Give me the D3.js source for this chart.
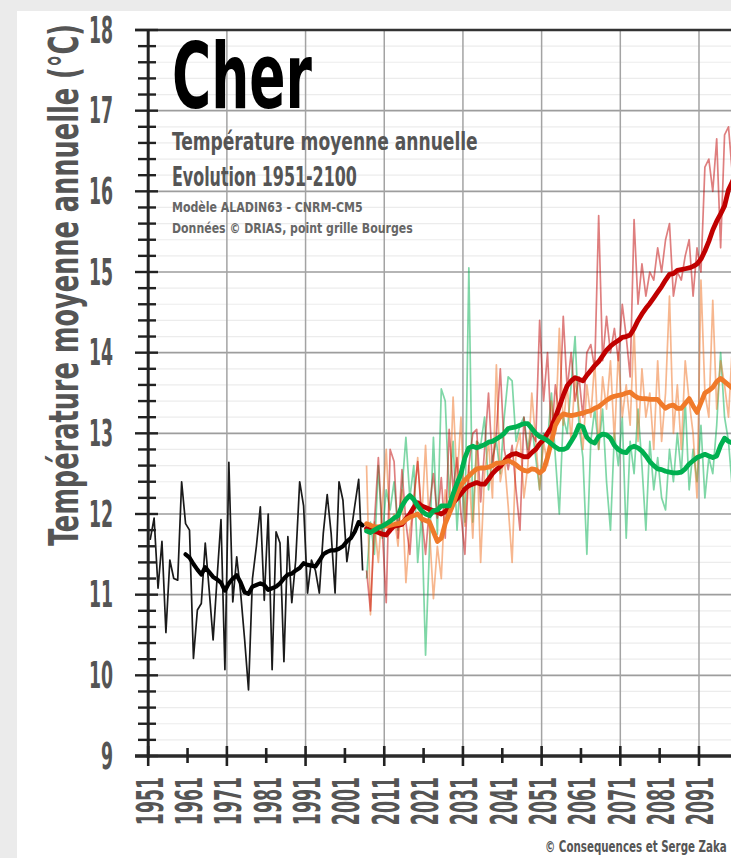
<!DOCTYPE html>
<html>
<head>
<meta charset="utf-8">
<script src="https://cdn.jsdelivr.net/npm/d3@7"></script>
<style>
  html, body { margin: 0; padding: 0; background: #ebebeb; overflow: hidden; }
  svg { display: block; }
</style>
</head>
<body>
<svg id="chart" width="731" height="858"></svg>
<script>
// ---- Data ---------------------------------------------------------------
const obsStart = 1951;     // first observed year
const modelStart = 2006;   // first projected year
const smoothObsStart = 1960;

// Observed annual mean temperature, Bourges grid point (°C), 1951-2005
const observed = [
  11.68, 11.95, 11.08, 11.66, 10.53, 11.43, 11.20, 11.18, 12.40, 11.88,
  11.80, 10.21, 10.81, 10.89, 11.64, 11.06, 10.44, 11.20, 11.93, 10.07,
  12.64, 10.91, 11.47, 11.02, 10.45, 9.82, 11.20, 11.60, 12.09, 10.93,
  12.00, 10.07, 11.78, 11.64, 10.17, 11.72, 10.90, 11.43, 12.40, 12.10,
  11.02, 11.43, 11.30, 11.02, 11.76, 12.24, 11.76, 11.02, 12.40, 12.17,
  11.41, 11.75, 12.10, 12.43, 11.30
];
// Observed 10-year running mean, 1960-2005
const observedSmooth = [
  11.50, 11.46, 11.38, 11.31, 11.25, 11.34, 11.28, 11.22, 11.19, 11.15,
  11.05, 11.14, 11.20, 11.24, 11.15, 11.03, 11.01, 11.10, 11.12, 11.14,
  11.12, 11.06, 11.08, 11.10, 11.14, 11.20, 11.25, 11.26, 11.30, 11.33,
  11.39, 11.37, 11.36, 11.35, 11.42, 11.50, 11.53, 11.55, 11.55, 11.57,
  11.60, 11.66, 11.70, 11.78, 11.90, 11.86
];

// Projections 2006-2100, annual values
const rcp85 = [
  11.30, 10.80, 11.90, 12.70, 11.80, 10.90, 12.80, 12.65, 11.70, 12.55,
  11.90, 11.50, 12.20, 12.65, 12.00, 11.50, 12.10, 12.50, 11.95, 12.45,
  11.70, 13.05, 12.30, 12.70, 12.00, 11.50, 12.60, 13.00, 13.05, 12.15,
  12.80, 13.50, 12.60, 13.00, 13.80, 12.80, 12.55, 12.85, 12.30, 11.80,
  13.20, 12.70, 13.00, 12.90, 14.40, 13.40, 14.00, 12.95, 13.60, 13.20,
  14.45, 13.55, 14.00, 13.40, 13.70, 13.20, 14.00, 14.10, 13.80, 15.70,
  13.90, 14.45, 14.00, 14.30, 13.90, 14.60, 14.20, 13.70, 15.65, 14.60,
  15.10, 14.70, 15.00, 14.90, 15.30, 15.00, 15.40, 15.60, 14.70, 15.00,
  14.90, 15.20, 15.40, 14.70, 15.30, 15.00, 16.30, 16.40, 16.00, 16.65,
  15.30, 16.70, 16.80, 16.20, 16.60
];
const rcp45 = [
  12.60, 10.75, 11.90, 11.40, 12.10, 12.80, 11.80, 12.00, 11.60, 12.30,
  11.15, 11.80, 12.10, 12.70, 11.90, 12.85, 11.80, 10.95, 11.60, 11.20,
  12.30, 12.00, 13.45, 12.40, 13.20, 11.85, 12.60, 11.70, 12.90, 11.40,
  12.50, 12.90, 12.20, 13.85, 12.40, 12.70, 12.10, 11.40, 12.80, 13.00,
  12.20, 12.60, 13.50, 12.90, 12.30, 12.90, 12.60, 13.40, 13.00, 14.30,
  13.10, 13.60, 12.90, 13.70, 13.30, 12.80, 13.60, 13.20, 13.90, 12.80,
  13.70, 13.30, 13.90, 12.90, 14.00, 13.20, 13.60, 13.10, 14.30, 12.90,
  13.80, 13.20, 13.50, 12.80, 13.90, 12.90, 13.50, 14.70, 13.00, 13.60,
  12.80, 13.90, 13.40, 13.00, 12.20, 14.90, 13.50, 13.20, 14.65, 13.30,
  13.90, 13.60, 13.20, 14.10, 13.50
];
const rcp26 = [
  11.20, 11.90, 11.50, 12.60, 11.70, 12.30, 12.05, 12.40, 11.80, 12.30,
  12.95, 12.20, 12.60, 11.40, 12.00, 10.25, 11.60, 12.95, 11.75, 13.55,
  13.40, 12.20, 12.90, 11.80, 12.60, 11.90, 15.05, 11.90, 12.90, 12.85,
  13.20, 12.30, 12.70, 12.90, 12.50, 13.20, 13.70, 13.65, 12.90, 13.10,
  13.20, 12.80, 13.10, 12.70, 12.30, 13.00, 12.90, 13.50, 12.70, 12.00,
  13.20, 13.00, 13.60, 14.20, 13.10, 12.70, 11.50, 12.90, 13.30, 12.80,
  13.30, 12.40, 11.80, 13.00, 12.60, 13.20, 11.70, 12.90, 12.50, 13.30,
  12.60, 11.80, 12.90, 12.30, 12.70, 12.20, 12.05, 12.80, 12.40, 13.00,
  12.50, 13.40, 12.30, 12.80, 12.40, 13.10, 12.20, 12.70, 12.50, 13.10,
  14.00, 13.20, 12.90, 12.30, 13.00
];

// Projections 2006-2100, 10-year running mean
const rcp85Smooth = [
  11.82, 11.80, 11.79, 11.77, 11.75, 11.74, 11.80, 11.85, 11.86, 11.87,
  11.94, 12.00, 12.08, 12.14, 12.10, 12.08, 12.06, 12.04, 12.02, 12.00,
  12.03, 12.08, 12.14, 12.19, 12.25, 12.31, 12.35, 12.37, 12.39, 12.37,
  12.37, 12.43, 12.50, 12.55, 12.59, 12.65, 12.71, 12.74, 12.75, 12.73,
  12.71, 12.71, 12.76, 12.80, 12.87, 12.92, 13.00, 13.08, 13.20, 13.33,
  13.47, 13.59, 13.65, 13.69, 13.67, 13.65, 13.72, 13.78, 13.84, 13.89,
  13.96, 14.03, 14.08, 14.12, 14.15, 14.19, 14.20, 14.22, 14.30, 14.40,
  14.48, 14.55, 14.61, 14.68, 14.75, 14.82, 14.90, 14.97, 14.98, 15.02,
  15.03, 15.04, 15.05, 15.07, 15.10, 15.16, 15.26, 15.38, 15.52, 15.63,
  15.72, 15.82, 16.02, 16.12, 16.25
];
const rcp45Smooth = [
  11.88, 11.86, 11.84, 11.84, 11.85, 11.85, 11.86, 11.87, 11.88, 11.89,
  11.93, 11.96, 11.98, 12.00, 11.94, 11.92, 11.90, 11.78, 11.66, 11.70,
  11.88, 12.00, 12.12, 12.26, 12.36, 12.42, 12.47, 12.52, 12.56, 12.57,
  12.57, 12.58, 12.60, 12.63, 12.63, 12.64, 12.66, 12.64, 12.61, 12.57,
  12.54, 12.53, 12.56, 12.55, 12.51, 12.55, 12.70, 12.90, 13.10, 13.19,
  13.24, 13.23, 13.22, 13.23, 13.24, 13.25, 13.27, 13.28, 13.31, 13.33,
  13.37, 13.41, 13.44, 13.46, 13.47, 13.48, 13.50, 13.51, 13.47, 13.44,
  13.43, 13.43, 13.42, 13.42, 13.42, 13.36, 13.31, 13.34, 13.35, 13.31,
  13.31, 13.37, 13.43, 13.34, 13.26, 13.38, 13.50, 13.53, 13.57, 13.64,
  13.68, 13.64, 13.60, 13.56, 13.60
];
const rcp26Smooth = [
  11.79, 11.77, 11.80, 11.83, 11.85, 11.88, 11.91, 11.95, 11.98, 12.10,
  12.18, 12.23, 12.18, 12.10, 12.04, 12.00, 11.98, 12.04, 12.05, 12.10,
  12.10, 12.10, 12.25, 12.38, 12.50, 12.70, 12.82, 12.84, 12.82, 12.84,
  12.86, 12.89, 12.90, 12.93, 12.96, 13.00, 13.06, 13.07, 13.08, 13.10,
  13.12, 13.12, 13.06, 13.00, 12.96, 12.94, 12.91, 12.87, 12.83, 12.80,
  12.80, 12.82, 12.90, 12.98, 13.10, 13.08, 12.95, 12.90, 12.88, 12.96,
  12.99, 12.98, 12.94, 12.85, 12.80, 12.77, 12.76, 12.82, 12.84, 12.82,
  12.78, 12.72, 12.65, 12.60, 12.56, 12.55, 12.53, 12.52, 12.51, 12.51,
  12.52, 12.56, 12.62, 12.66, 12.70, 12.72, 12.74, 12.72, 12.70, 12.72,
  12.85, 12.94, 12.90, 12.88, 12.90
];

// Axis labels
const xTickLabels = ["1951","1961","1971","1981","1991","2001","2011","2021",
                     "2031","2041","2051","2061","2071","2081","2091"];
const yTickLabels = [9, 10, 11, 12, 13, 14, 15, 16, 17, 18];

// ---- Layout ---------------------------------------------------------------
const W = 731, H = 858;
const FONT = "'DejaVu Sans Condensed','DejaVu Sans',sans-serif";
const x = d3.scaleLinear().domain([1951, 2100]).range([148.2, 734.4]);
const y = d3.scaleLinear().domain([9, 18]).range([756, 30]);

const svg = d3.select("#chart");

// Places a text at (tx, ty), optionally rotated, and squeezes it along its
// baseline so that it spans exactly `len` pixels.
function fitText(parent, str, opts) {
  const t = parent.append("text")
    .attr("font-family", FONT).attr("font-weight", "bold")
    .attr("font-size", opts.size).attr("fill", opts.fill)
    .attr("text-anchor", opts.anchor || "start")
    .text(str);
  const natural = t.node().getComputedTextLength();
  const k = opts.len / natural;
  const rot = opts.rotate ? ` rotate(${opts.rotate})` : "";
  t.attr("transform", `translate(${opts.x},${opts.y})${rot} scale(${k},1)`);
  return t;
}

// white card
svg.append("rect").attr("x", 17).attr("y", 11)
  .attr("width", W).attr("height", H).attr("fill", "#ffffff");

const plotLeft = x(1951), plotRight = W + 10;
const isWhole = d => Math.abs(d - Math.round(d)) < 1e-6;

// horizontal gridlines: light every 0.2 °C, darker every degree
const minorVals = y.ticks(45);
svg.append("g").selectAll("line").data(minorVals).join("line")
  .attr("x1", plotLeft).attr("x2", plotRight)
  .attr("y1", d => y(d)).attr("y2", d => y(d))
  .attr("stroke", d => isWhole(d) ? "#9d9d9d" : "#ececec")
  .attr("stroke-width", d => isWhole(d) ? 1.6 : 1.2);

// vertical gridlines every 20 years
const gridYears = xTickLabels.map(Number).filter((d, i) => i % 2 === 0 && d > 1951);
svg.append("g").selectAll("line").data(gridYears).join("line")
  .attr("x1", d => x(d)).attr("x2", d => x(d))
  .attr("y1", y(18)).attr("y2", y(9))
  .attr("stroke", "#a3a3a3").attr("stroke-width", 1.5);

// top frame line
svg.append("line").attr("x1", 135).attr("x2", plotRight)
  .attr("y1", y(18)).attr("y2", y(18))
  .attr("stroke", "#333").attr("stroke-width", 2.5);

// ---- Series ---------------------------------------------------------------
const toPoints = (arr, start) => arr.map((v, i) => ({ year: start + i, v }));
const line = d3.line().x(d => x(d.year + 0.5)).y(d => y(d.v));

const plot = svg.append("g");

const thin = [
  { data: rcp26, color: "#00b050" },
  { data: rcp45, color: "#f07020" },
  { data: rcp85, color: "#c00000" }
];
thin.forEach(s => {
  plot.append("path").datum(toPoints(s.data, modelStart))
    .attr("d", line).attr("fill", "none")
    .attr("stroke", s.color).attr("stroke-opacity", 0.5)
    .attr("stroke-width", 1.7).attr("stroke-linejoin", "round");
});

plot.append("path").datum(toPoints(observed, obsStart))
  .attr("d", line).attr("fill", "none")
  .attr("stroke", "#1a1a1a").attr("stroke-width", 1.7)
  .attr("stroke-linejoin", "round");

plot.append("path").datum(toPoints(observedSmooth, smoothObsStart))
  .attr("d", line).attr("fill", "none")
  .attr("stroke", "#000").attr("stroke-width", 4.2)
  .attr("stroke-linejoin", "round").attr("stroke-linecap", "round");

const thick = [
  { data: rcp85Smooth, color: "#c00000" },
  { data: rcp45Smooth, color: "#f07a2a" },
  { data: rcp26Smooth, color: "#00b050" }
];
thick.forEach(s => {
  plot.append("path").datum(toPoints(s.data, modelStart))
    .attr("d", line).attr("fill", "none")
    .attr("stroke", s.color).attr("stroke-width", 4.8)
    .attr("stroke-linejoin", "round").attr("stroke-linecap", "round");
});

// ---- Axes -----------------------------------------------------------------
const axisColor = "#222";
// y axis ticks
svg.append("g").selectAll("line").data(minorVals).join("line")
  .attr("x1", d => isWhole(d) ? 135 : 138)
  .attr("x2", d => isWhole(d) ? 158 : 156)
  .attr("y1", d => y(d)).attr("y2", d => y(d))
  .attr("stroke", axisColor).attr("stroke-width", 2.4);
svg.append("line").attr("x1", plotLeft).attr("x2", plotLeft)
  .attr("y1", y(18)).attr("y2", y(9) + 2)
  .attr("stroke", axisColor).attr("stroke-width", 3);

// x axis
svg.append("line").attr("x1", 135).attr("x2", plotRight)
  .attr("y1", y(9)).attr("y2", y(9))
  .attr("stroke", "#2a2a2a").attr("stroke-width", 3.6);
svg.append("g").selectAll("line").data(xTickLabels).join("line")
  .attr("x1", d => x(+d)).attr("x2", d => x(+d))
  .attr("y1", (d, i) => i % 2 === 0 ? 746 : 748)
  .attr("y2", (d, i) => i % 2 === 0 ? 766 : 763)
  .attr("stroke", axisColor).attr("stroke-width", 2.6);

// y tick labels
svg.append("g").selectAll("text").data(yTickLabels).join("text")
  .attr("transform", d => `translate(113,${y(d) + 12.5}) scale(0.52,1)`)
  .attr("text-anchor", "end")
  .attr("font-family", FONT).attr("font-weight", "bold")
  .attr("font-size", 37).attr("fill", "#555")
  .text(d => d);

// x tick labels (vertical)
svg.append("g").selectAll("text").data(xTickLabels).join("text")
  .attr("transform", d => `translate(${x(+d) + 14.5},777) rotate(-90) scale(0.52,1)`)
  .attr("text-anchor", "end")
  .attr("font-family", FONT).attr("font-weight", "bold")
  .attr("font-size", 37).attr("fill", "#555")
  .text(d => d);

// y axis title
fitText(svg, "Température moyenne annuelle (°C)", {
  x: 78, y: 285, rotate: -90, anchor: "middle", size: 41, len: 522, fill: "#555"
});

// ---- Titles ---------------------------------------------------------------
const titles = [
  { t: "Cher", x: 172, y: 108, size: 90, len: 140, fill: "#000" },
  { t: "Température moyenne annuelle", x: 172, y: 150, size: 25, len: 306, fill: "#555" },
  { t: "Evolution 1951-2100", x: 172, y: 186, size: 26, len: 185, fill: "#555" },
  { t: "Modèle ALADIN63 - CNRM-CM5", x: 172, y: 211.5, size: 14, len: 191, fill: "#666" },
  { t: "Données © DRIAS, point grille Bourges", x: 172, y: 233, size: 14, len: 241, fill: "#666" }
];
const titleGroup = svg.append("g");
titles.forEach(d => fitText(titleGroup, d.t, d));

// credit line
fitText(svg, "© Consequences et Serge Zaka", {
  x: 545, y: 852, size: 15, len: 182, fill: "#555"
});
</script>
</body>
</html>
